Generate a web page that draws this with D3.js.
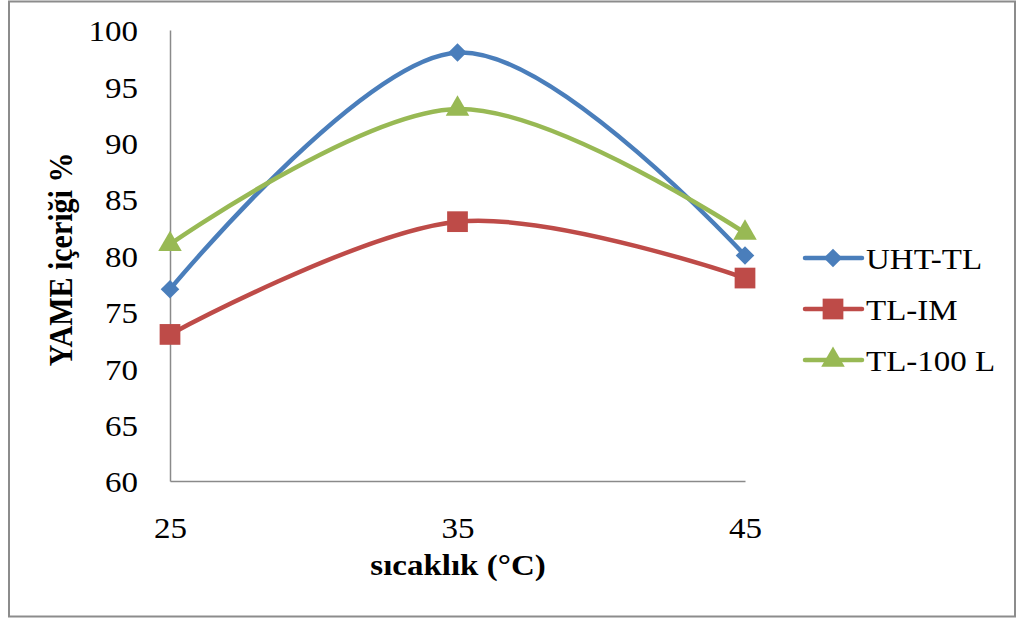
<!DOCTYPE html>
<html>
<head>
<meta charset="utf-8">
<script src="https://cdn.jsdelivr.net/npm/d3@7"></script>
<style>
  html, body { margin: 0; padding: 0; background: #fff; }
  svg { display: block; }
  text { font-family: "Liberation Serif", "Times New Roman", serif; fill: #000; }
</style>
</head>
<body>
<svg id="chart" width="1020" height="619"></svg>
<script>
// Temperature (°C) on the x axis
const temperatures = [25, 35, 45];
// FAME content (%) for each lipase
const uhtTL = [77, 98, 80];
const tlIM = [73, 83, 78];
const tl100L = [81, 93, 82];
const seriesNames = ["UHT-TL", "TL-IM", "TL-100 L"];
const yTicks = [60, 65, 70, 75, 80, 85, 90, 95, 100];

const series = [
  { name: seriesNames[0], values: uhtTL, color: "#4A7EBB", marker: "diamond" },
  { name: seriesNames[1], values: tlIM, color: "#BE4B48", marker: "square" },
  { name: seriesNames[2], values: tl100L, color: "#98B954", marker: "triangle" }
];

// text is drawn slightly wide, like the original chart's typeface
const SX = 1.1;

const svg = d3.select("#chart");

// outer frame
svg.append("rect")
  .attr("x", 9).attr("y", 1.5).attr("width", 1006).attr("height", 615)
  .attr("fill", "#fff").attr("stroke", "#8c8c8c").attr("stroke-width", 2);

const x = d3.scaleLinear().domain([25, 45]).range([170, 745]);
const y = d3.scaleLinear().domain([60, 100]).range([481, 30]);

// axes
const yAxis = svg.append("g").attr("transform", `translate(${x(25)},0)`)
  .call(d3.axisLeft(y).tickValues(yTicks).tickSize(0).tickPadding(32).tickFormat(d3.format("d")));
const xAxis = svg.append("g").attr("transform", `translate(0,${y(60)})`)
  .call(d3.axisBottom(x).tickValues(temperatures).tickSize(0).tickPadding(31).tickFormat(d3.format("d")));
[yAxis, xAxis].forEach(a => {
  a.select(".domain").attr("stroke", "#8a8a8a").attr("stroke-width", 1.5);
  a.selectAll("text")
    .style("font-family", "'Liberation Serif', serif")
    .style("font-size", "30px")
    .attr("fill", "#000")
    .attr("transform", `scale(${SX},1)`);
});
yAxis.selectAll("text").attr("x", -32 / SX).attr("dy", "0.36em");
xAxis.selectAll("text").attr("dy", "0.88em");

// axis titles
svg.append("text")
  .attr("transform", `translate(72,${(y(60) + y(100)) / 2 + 4}) scale(${SX},1) rotate(-90)`)
  .attr("text-anchor", "middle")
  .style("font-size", "30px").style("font-weight", "bold")
  .text("YAME içeriği %");
svg.append("text")
  .attr("transform", `translate(458,575) scale(${SX},1)`)
  .attr("text-anchor", "middle")
  .style("font-size", "30px").style("font-weight", "bold")
  .text("sıcaklık (°C)");

const line = d3.line()
  .x((d, i) => x(temperatures[i]))
  .y(d => y(d))
  .curve(d3.curveCardinal.tension(0));

const symbolFor = {
  diamond: d3.symbol().type(d3.symbolDiamond2).size(220),
  square: d3.symbol().type(d3.symbolSquare).size(430),
  triangle: d3.symbol().type(d3.symbolTriangle).size(240)
};

function drawMarker(g, s, cx, cy) {
  g.append("path")
    .attr("d", symbolFor[s.marker]())
    .attr("transform", `translate(${cx},${cy})`)
    .attr("fill", s.color);
}

series.forEach(s => {
  const g = svg.append("g");
  g.append("path")
    .attr("d", line(s.values))
    .attr("fill", "none")
    .attr("stroke", s.color)
    .attr("stroke-width", 4.5)
    .attr("stroke-linecap", "round");
  s.values.forEach((v, i) => drawMarker(g, s, x(temperatures[i]), y(v)));
});

// legend
const legend = svg.append("g");
series.forEach((s, i) => {
  const ly = 258 + i * 51;
  const g = legend.append("g");
  g.append("line")
    .attr("x1", 805).attr("x2", 862).attr("y1", ly).attr("y2", ly)
    .attr("stroke", s.color).attr("stroke-width", 4.5).attr("stroke-linecap", "round");
  drawMarker(g, s, 833, ly);
  g.append("text")
    .attr("transform", `translate(866,${ly}) scale(${SX},1)`)
    .attr("dy", "0.35em")
    .style("font-size", "30px")
    .text(s.name);
});
</script>
</body>
</html>
